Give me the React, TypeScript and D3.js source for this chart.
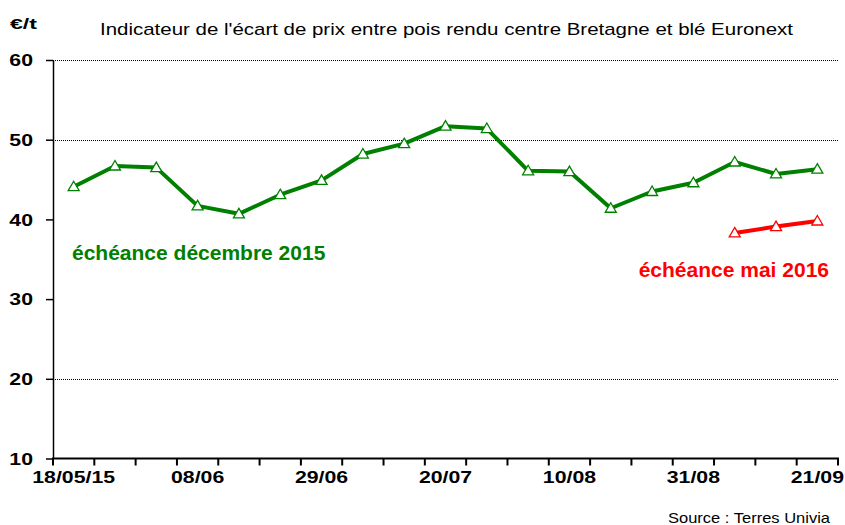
import React, { useEffect, useRef } from 'react';
import * as d3 from 'd3';

// weekly dates (Mondays), 18/05/2015 -> 21/09/2015
const dates = [
  '18/05/15', '25/05', '01/06', '08/06', '15/06', '22/06', '29/06', '06/07',
  '13/07', '20/07', '27/07', '03/08', '10/08', '17/08', '24/08', '31/08',
  '07/09', '14/09', '21/09',
];
const tickLabels = ['18/05/15', '08/06', '29/06', '20/07', '10/08', '31/08', '21/09'];
const yTicks = [10, 20, 30, 40, 50, 60];
const gridValues = [20, 50, 60];

// échéance décembre 2015
const dec2015 = [
  44.1, 46.7, 46.5, 41.7, 40.7, 43.1, 44.9, 48.2, 49.5, 51.7,
  51.4, 46.1, 46.0, 41.4, 43.5, 44.6, 47.2, 45.7, 46.3,
];
// échéance mai 2016
const may2016Dates = ['07/09', '14/09', '21/09'];
const may2016 = [38.3, 39.1, 39.8];

const FONT = '"Liberation Sans", Arial, sans-serif';
const GREEN = '#008000';
const RED = '#ff0000';

const stretch = (cx: number, sx: number) =>
  `translate(${cx},0) scale(${sx},1) translate(${-cx},0)`;

const App: React.FC = () => {
  const chartRef = useRef<SVGSVGElement>(null);

  useEffect(() => {
    const svg = d3.select(chartRef.current);
    svg.selectAll('*').remove();

    const width = 845;
    const height = 525;
    const left = 53;
    const right = 838;
    const top = 60;
    const bottom = 458.5;

    svg.attr('width', width).attr('height', height);

    const x = d3.scaleBand().domain(dates).range([left, right]).padding(0);
    const y = d3.scaleLinear().domain([10, 60]).range([bottom, top]);
    const cx = (d: string) => (x(d) as number) + x.bandwidth() / 2;

    // gridlines
    svg
      .append('g')
      .selectAll('line')
      .data(gridValues)
      .join('line')
      .attr('x1', left)
      .attr('x2', right)
      .attr('y1', (d) => Math.round(y(d)) + 0.5)
      .attr('y2', (d) => Math.round(y(d)) + 0.5)
      .attr('stroke', '#000')
      .attr('stroke-width', 1)
      .attr('stroke-dasharray', '1,1');

    // y axis
    const yAxis = svg
      .append('g')
      .attr('transform', `translate(${left},0)`)
      .call(d3.axisLeft(y).tickValues(yTicks).tickSize(7).tickPadding(0).tickSizeOuter(0));
    yAxis.select('.domain').attr('stroke', '#000').attr('stroke-width', 1.5);
    yAxis.selectAll('.tick line').attr('stroke', '#000').attr('stroke-width', 1.5);
    yAxis
      .selectAll('.tick text')
      .attr('x', -20)
      .attr('dy', '0.36em')
      .attr('transform', stretch(-20, 1.33))
      .style('font-family', FONT)
      .style('font-size', '16px')
      .style('font-weight', 'bold')
      .attr('fill', '#000');

    // x axis: labels at band centres, ticks at band edges
    const xAxis = svg
      .append('g')
      .attr('transform', `translate(0,${bottom})`)
      .call(d3.axisBottom(x).tickValues(tickLabels).tickSize(0).tickPadding(0).tickSizeOuter(0));
    xAxis.select('.domain').remove();
    xAxis
      .selectAll('.tick text')
      .attr('y', 25)
      .attr('dy', 0)
      .attr('transform', stretch(0, 1.33))
      .style('font-family', FONT)
      .style('font-size', '16px')
      .style('font-weight', 'bold')
      .attr('fill', '#000');

    const edges = dates.map((d) => x(d) as number).concat([right]);
    svg
      .append('g')
      .selectAll('line')
      .data(edges)
      .join('line')
      .attr('x1', (d) => d)
      .attr('x2', (d) => d)
      .attr('y1', bottom)
      .attr('y2', bottom + 7)
      .attr('stroke', '#000')
      .attr('stroke-width', 2);
    svg
      .append('line')
      .attr('x1', left - 1)
      .attr('x2', right + 1)
      .attr('y1', bottom)
      .attr('y2', bottom)
      .attr('stroke', '#000')
      .attr('stroke-width', 2);

    const tri = 'M0,-5.5L5.5,4L-5.5,4Z';

    const drawSeries = (cats: string[], vals: number[], color: string) => {
      const pts = cats.map((d, i) => [cx(d), y(vals[i])] as [number, number]);
      svg
        .append('path')
        .datum(pts)
        .attr('d', d3.line())
        .attr('fill', 'none')
        .attr('stroke', color)
        .attr('stroke-width', 4)
        .attr('stroke-linejoin', 'round');
      svg
        .append('g')
        .selectAll('path')
        .data(pts)
        .join('path')
        .attr('d', tri)
        .attr('transform', (p) => `translate(${p[0]},${p[1]})`)
        .attr('fill', '#fff')
        .attr('stroke', color)
        .attr('stroke-width', 1.3);
    };

    drawSeries(dates, dec2015, GREEN);
    drawSeries(may2016Dates, may2016, RED);

    // titles and labels
    svg
      .append('text')
      .attr('x', 100)
      .attr('y', 35)
      .attr('textLength', 693)
      .attr('lengthAdjust', 'spacingAndGlyphs')
      .style('font-family', FONT)
      .style('font-size', '17px')
      .attr('fill', '#000')
      .text("Indicateur de l'écart de prix entre pois rendu centre Bretagne et blé Euronext");

    svg
      .append('text')
      .attr('x', 10)
      .attr('y', 28.5)
      .attr('textLength', 27)
      .attr('lengthAdjust', 'spacingAndGlyphs')
      .style('font-family', FONT)
      .style('font-size', '15px')
      .style('font-weight', 'bold')
      .attr('fill', '#000')
      .text('€/t');

    svg
      .append('text')
      .attr('x', 72)
      .attr('y', 259.5)
      .style('font-family', FONT)
      .style('font-size', '21px')
      .style('font-weight', 'bold')
      .attr('fill', GREEN)
      .text('échéance décembre 2015');

    svg
      .append('text')
      .attr('x', 829)
      .attr('y', 277)
      .attr('text-anchor', 'end')
      .style('font-family', FONT)
      .style('font-size', '21px')
      .style('font-weight', 'bold')
      .attr('fill', RED)
      .text('échéance mai 2016');

    svg
      .append('text')
      .attr('x', 668)
      .attr('y', 523)
      .attr('textLength', 162)
      .attr('lengthAdjust', 'spacingAndGlyphs')
      .style('font-family', FONT)
      .style('font-size', '15px')
      .attr('fill', '#000')
      .text('Source : Terres Univia');
  }, []);

  return (
    <div style={{ position: 'absolute', left: 0, top: 0, background: '#fff' }}>
      <svg ref={chartRef} style={{ display: 'block' }}></svg>
    </div>
  );
};

export default App;
